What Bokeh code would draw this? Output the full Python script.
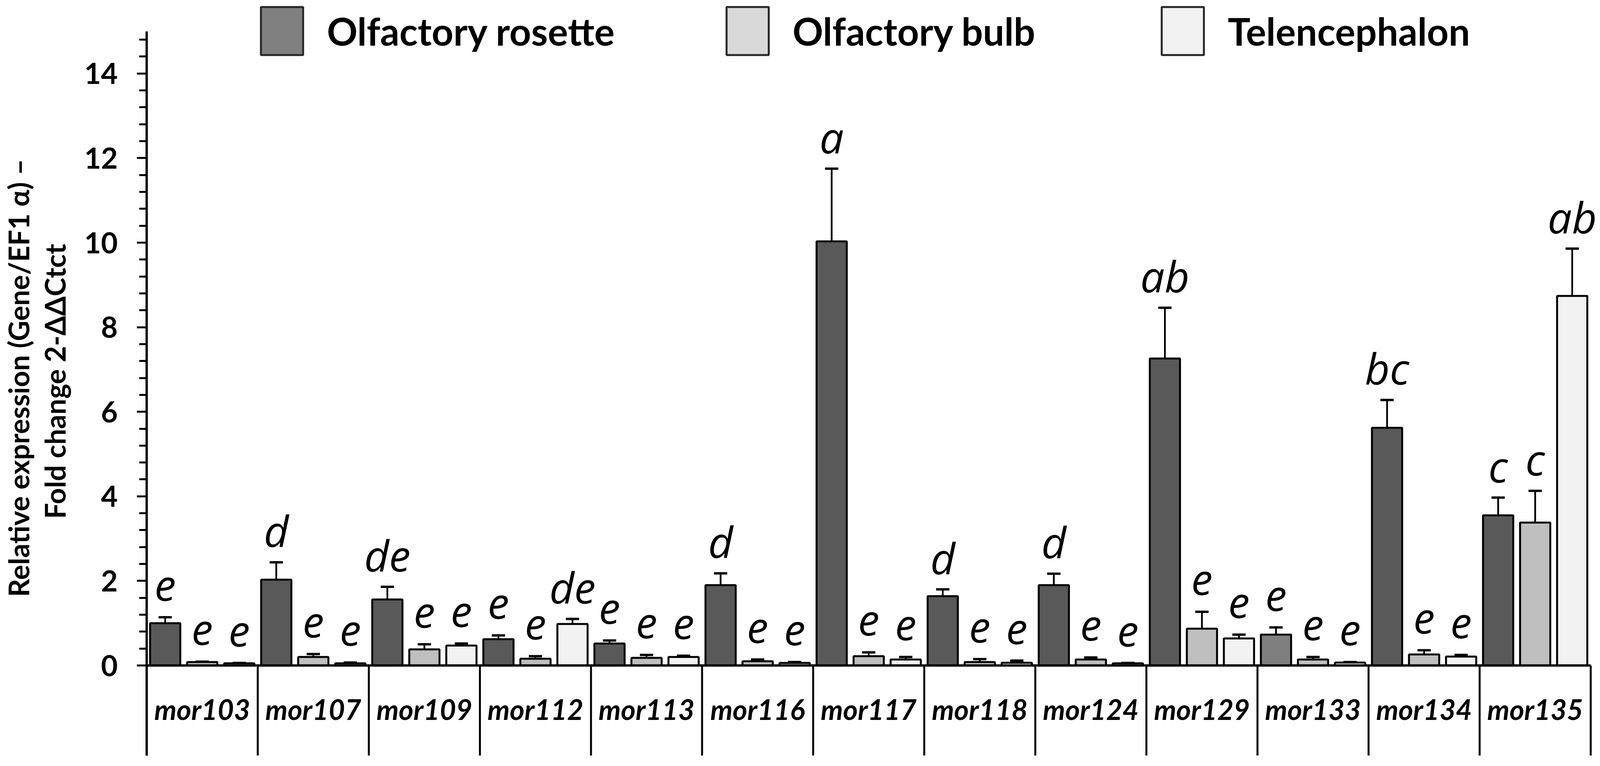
from bokeh.plotting import figure
from bokeh.models import (Range1d, FixedTicker, Whisker, TeeHead, ColumnDataSource, Legend,
                          LegendItem, LinearAxis)
from bokeh.core.properties import value
from bokeh.embed import file_html
from bokeh.resources import INLINE

# ---------------- data ----------------
genes = ["mor103", "mor107", "mor109", "mor112", "mor113", "mor116", "mor117",
         "mor118", "mor124", "mor129", "mor133", "mor134", "mor135"]

rosette = [1.00, 2.03, 1.56, 0.62, 0.52, 1.90, 10.03, 1.64, 1.90, 7.26, 0.73, 5.62, 3.55]
rosette_err = [0.14, 0.41, 0.30, 0.09, 0.07, 0.28, 1.72, 0.16, 0.27, 1.20, 0.17, 0.66, 0.42]
rosette_letters = ["e", "d", "de", "e", "e", "d", "a", "d", "d", "ab", "e", "bc", "c"]

bulb = [0.08, 0.20, 0.38, 0.16, 0.18, 0.10, 0.22, 0.08, 0.14, 0.87, 0.14, 0.26, 3.38]
bulb_err = [0.01, 0.07, 0.12, 0.06, 0.07, 0.04, 0.09, 0.07, 0.05, 0.40, 0.06, 0.10, 0.75]
bulb_letters = ["e", "e", "e", "e", "e", "e", "e", "e", "e", "e", "e", "e", "c"]

tele = [0.05, 0.05, 0.47, 0.98, 0.20, 0.06, 0.14, 0.065, 0.05, 0.64, 0.07, 0.21, 8.74]
tele_err = [0.01, 0.02, 0.05, 0.12, 0.03, 0.02, 0.06, 0.05, 0.01, 0.09, 0.01, 0.04, 1.12]
tele_letters = ["e", "e", "e", "de", "e", "e", "e", "e", "e", "e", "e", "e", "ab"]

series_names = ["Olfactory rosette", "Olfactory bulb", "Telencephalon"]
y_title_lines = ["Relative expression (Gene/EF1 α) –", "Fold change  2-ΔΔCtct"]
y_major = [0, 2, 4, 6, 8, 10, 12, 14]

# ---------------- layout / styling ----------------
# the browser viewport is ~4096 css px wide and 1962 tall; horizontal
# geometry of the reference (4554 wide) is scaled to fit that width.
KX = 4096 / 4554


def hx(v):
    return v * KX


n = len(genes)
rosette_fill = ["#595959"] * n
rosette_fill[genes.index("mor133")] = "#7f7f7f"
bar_fills = [rosette_fill, ["#bfbfbf"] * n, ["#f2f2f2"] * n]
legend_fills = ["#808080", "#d9d9d9", "#f2f2f2"]
values = [rosette, bulb, tele]
errors = [rosette_err, bulb_err, tele_err]
letters = [rosette_letters, bulb_letters, tele_letters]
offsets = [-1 / 3, 0.0, 1 / 3]

W, H = 4090, 1955
left = round(hx(413))          # y axis position
cat_w = hx(316.5)              # one category in px
unit = 108.3                   # one y unit in px
zero = 1704                    # canvas y of value 0
frame_bottom = 1935
X1 = (W - left) / cat_w
Y1 = zero / unit
Y0 = -(frame_bottom - zero) / unit

FONT = "Lato"

p = figure(width=W, height=H,
           x_range=Range1d(0, X1), y_range=Range1d(Y0, Y1),
           output_backend="svg", toolbar_location=None,
           x_axis_location=None,
           min_border_left=left, min_border_right=0,
           min_border_top=0, min_border_bottom=H - frame_bottom)
p.outline_line_color = None
p.xgrid.grid_line_color = None
p.ygrid.grid_line_color = None
p.background_fill_color = "white"
p.border_fill_color = "white"

sources = []
for k in range(3):
    xs = [i + 0.5 + offsets[k] for i in range(n)]
    up = [v + e for v, e in zip(values[k], errors[k])]
    src = ColumnDataSource(dict(x=xs, top=values[k], up=up, lab=letters[k], fill=bar_fills[k]))
    sources.append(src)
    p.vbar(x="x", top="top", bottom=0, width=0.272, source=src,
           fill_color="fill", line_color="black", line_width=5)
    p.add_layout(Whisker(base="x", upper="up", lower="top", source=src,
                         upper_head=TeeHead(size=round(hx(38)), line_width=6, line_color="black"),
                         lower_head=None, line_width=4.5, line_color="black", level="overlay"))
    p.text(x="x", y="up", text="lab", source=src,
           text_font=value("Open Sans"), text_font_style="italic", text_font_size="110px",
           text_align="center", text_baseline="middle", y_offset=-82, text_color="black")

# category separators and baseline
bounds = list(range(1, n + 1))
p.segment(x0=bounds, y0=[0] * n, x1=bounds, y1=[Y0] * n, line_color="black", line_width=5)
p.segment(x0=[0], y0=[0], x1=[n], y1=[0], line_color="black", line_width=6)

# category labels
p.text(x=[i + 0.5 for i in range(n)], y=[0] * n, text=genes,
       text_font=value(FONT), text_font_style="bold italic", text_font_size="72px",
       text_align="center", text_baseline="middle", y_offset=111, text_color="black")

# y axis
ax = p.yaxis[0]
ax.ticker = FixedTicker(ticks=y_major, minor_ticks=[round(0.4 * i, 1) for i in range(38)])
ax.bounds = (Y0, 15)
ax.axis_line_width = 6
ax.axis_line_color = "black"
ax.major_tick_line_width = 5
ax.minor_tick_line_width = 5
ax.major_tick_line_color = "black"
ax.minor_tick_line_color = "black"
ax.major_tick_out = round(hx(28))
ax.major_tick_in = 0
ax.minor_tick_out = round(hx(21))
ax.minor_tick_in = 0
ax.major_label_standoff = round(hx(55))
ax.major_label_text_font = FONT
ax.major_label_text_font_style = "bold"
ax.major_label_text_font_size = "74px"
ax.major_label_text_color = "black"

# y title: two bare axes stacked outside the tick labels, one line each
# (innermost axis holds the second line, the outer one the first line)
for line, standoff in [(y_title_lines[1], 30), (y_title_lines[0], 4)]:
    ta = LinearAxis(ticker=FixedTicker(ticks=[]), axis_label=line,
                    axis_label_standoff=standoff,
                    axis_line_color=None, major_tick_line_color=None, minor_tick_line_color=None,
                    major_tick_out=0, major_tick_in=0, minor_tick_out=0, minor_tick_in=0,
                    major_label_standoff=0, major_label_text_font_size="0px",
                    axis_label_text_font=FONT, axis_label_text_font_style="bold",
                    axis_label_text_font_size="72px", axis_label_text_color="black")
    p.add_layout(ta, "left")

# legend: three separate single-item legends (swatch drawn by hidden proxies)
gw, gh = hx(120) / 0.8, 123 / 0.8
swatch_left = [738, 2063, 3302]      # reference px
leg_y = round(frame_bottom - (141 + 0.1 * gh))
for k in range(3):
    r = p.vbar(x="x", top="top", width=0.272, source=sources[k], fill_color=legend_fills[k],
               line_color="#262626", line_width=5, visible=False)
    lx = round(hx(swatch_left[k]) - 0.1 * gw - left)
    leg = Legend(items=[LegendItem(label=series_names[k], renderers=[r])],
                 location=(lx, leg_y), orientation="horizontal",
                 glyph_width=round(gw), glyph_height=round(gh), label_standoff=48,
                 label_text_font=FONT, label_text_font_style="bold",
                 label_text_font_size="97px", label_text_color="black",
                 padding=0, margin=0, spacing=0,
                 inactive_fill_alpha=0,
                 border_line_color=None, background_fill_alpha=0)
    p.add_layout(leg)

open("out.html", "w").write(file_html(p, INLINE))
